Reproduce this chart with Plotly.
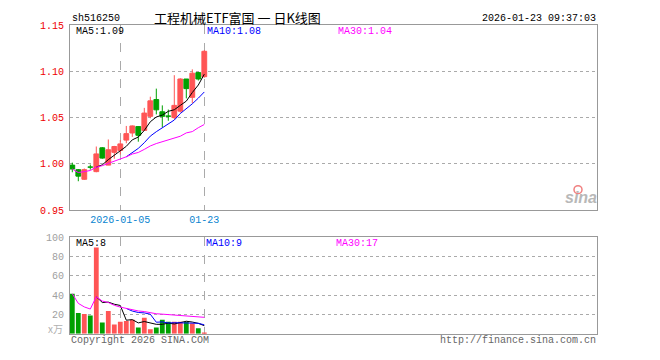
import plotly.graph_objects as go

# ---------------- data ----------------
dates = ["2025-12-22", "2025-12-23", "2025-12-24", "2025-12-25", "2025-12-26",
         "2025-12-29", "2025-12-30", "2025-12-31", "2026-01-05", "2026-01-06",
         "2026-01-07", "2026-01-08", "2026-01-09", "2026-01-12", "2026-01-13",
         "2026-01-14", "2026-01-15", "2026-01-16", "2026-01-19", "2026-01-20",
         "2026-01-21", "2026-01-22", "2026-01-23"]
opens = [0.9987, 0.9938, 0.9834, 0.9968, 0.9917, 1.0174, 0.9987, 1.0125, 1.0146, 1.0257,
         1.0334, 1.0403, 1.0362, 1.0514, 1.0695, 1.0563, 1.0518, 1.0500, 1.0570, 1.0917,
         1.0719, 1.0986, 1.0942]
highs = [1.0014, 0.9945, 0.9951, 0.9993, 1.0188, 1.0181, 1.0264, 1.0195, 1.0257, 1.0410,
         1.0415, 1.0403, 1.0605, 1.0726, 1.0813, 1.0632, 1.0587, 1.0958, 1.0925, 1.0917,
         1.1021, 1.0993, 1.1229]
lows = [0.9910, 0.9813, 0.9830, 0.9938, 0.9910, 1.0056, 0.9987, 1.0056, 1.0101, 1.0223,
        1.0292, 1.0240, 1.0362, 1.0493, 1.0535, 1.0396, 1.0466, 1.0483, 1.0555, 1.0708,
        1.0656, 1.0900, 1.0931]
closes = [0.9945, 0.9868, 0.9938, 0.9964, 1.0108, 1.0063, 1.0153, 1.0188, 1.0216, 1.0327,
          1.0410, 1.0309, 1.0549, 1.0681, 1.0584, 1.0514, 1.0514, 1.0632, 1.0917, 1.0813,
          1.0980, 1.0917, 1.1216]
ma5 = [None, None, None, None, 0.9966, 0.9990, 1.0046, 1.0096, 1.0146, 1.0190,
       1.0260, 1.0290, 1.0362, 1.0455, 1.0507, 1.0527, 1.0568, 1.0585, 1.0632, 1.0678,
       1.0771, 1.0852, 1.0969]
ma10 = [None, None, None, None, None, None, None, None, None, 1.0077,
        1.0124, 1.0168, 1.0229, 1.0300, 1.0348, 1.0393, 1.0429, 1.0474, 1.0544, 1.0592,
        1.0649, 1.0710, 1.0777]
ma30 = [0.9945, 0.9907, 0.9917, 0.9929, 0.9965, 0.9981, 1.0006, 1.0029, 1.0049, 1.0077,
        1.0107, 1.0124, 1.0157, 1.0194, 1.0220, 1.0239, 1.0255, 1.0276, 1.0299, 1.0335,
        1.0349, 1.0391, 1.0426]
volumes = [41.5, 21.5, 20.5, 18.8, 89.5, 11.5, 23.5, 9.5, 12.5, 13.2,
           14.5, 6.5, 16.5, 4.5, 6.5, 14.5, 12.5, 12.5, 12.5, 12.5,
           10.5, 5.5, 0.5]
vol_ma5 = [None, None, None, None, 38.4, 32.4, 32.8, 30.6, 29.3, 14.0,
           14.6, 11.2, 12.6, 11.0, 9.7, 9.7, 10.9, 10.1, 11.7, 12.9,
           12.1, 10.7, 8.3]
vol_ma10 = [None, None, None, None, None, None, None, None, None, 26.2,
            23.5, 22.0, 21.6, 20.2, 11.9, 12.2, 11.1, 11.4, 11.4, 11.3,
            10.9, 10.8, 9.2]
vol_ma30 = [41.5, 31.5, 27.8, 25.6, 38.4, 33.9, 32.4, 29.5, 27.6, 26.2,
            25.1, 23.6, 23.0, 21.7, 20.7, 20.3, 19.9, 19.4, 19.1, 18.75,
            18.4, 17.8, 17.0]

price_ticks = [0.95, 1.00, 1.05, 1.10, 1.15]
price_tick_text = ["0.95", "1.00", "1.05", "1.10", "1.15"]
vol_ticks = [20, 40, 60, 80, 100]
vol_tick_text = ["20", "40", "60", "80", "100"]
date_tick_labels = {"2026-01-05": "2026-01-05", "2026-01-23": "01-23"}

title_code = "sh516250"
title_name = "工程机械ETF富国 一 日K线图"
title_time = "2026-01-23 09:37:03"
ma_price_labels = ["MA5:1.09", "MA10:1.08", "MA30:1.04"]
ma_vol_labels = ["MA5:8", "MA10:9", "MA30:17"]

# ---------------- styles ----------------
RED = "#ff5555"
GREEN = "#00a000"
GRID = "#aaaaaa"
FRAME = "#999999"
MONO = "Liberation Mono, DejaVu Sans Mono, monospace"
W, H = 660, 360

idx = list(range(len(dates)))
up = [c >= o for o, c in zip(opens, closes)]
colors = [RED if u else GREEN for u in up]


def px(x):
    return x / W


def py(y):
    return 1 - y / H


fig = go.Figure()

# wicks
for flag, col in ((True, RED), (False, GREEN)):
    wx, wy = [], []
    for i in idx:
        if up[i] == flag:
            wx += [i, i, None]
            wy += [lows[i], highs[i], None]
    fig.add_trace(go.Scatter(x=wx, y=wy, mode="lines", line=dict(color=col, width=1),
                             hoverinfo="skip", showlegend=False, xaxis="x", yaxis="y"))

# bodies
fig.add_trace(go.Bar(x=idx, y=[abs(c - o) for o, c in zip(opens, closes)],
                     base=[min(o, c) for o, c in zip(opens, closes)],
                     width=0.8, marker=dict(color=colors, line=dict(color=colors, width=1)),
                     showlegend=False, xaxis="x", yaxis="y"))

# price MAs
for arr, col in ((ma5, "#000000"), (ma10, "#0000ff"), (ma30, "#ff00ff")):
    fig.add_trace(go.Scatter(x=idx, y=arr, mode="lines", line=dict(color=col, width=1),
                             showlegend=False, xaxis="x", yaxis="y", connectgaps=False))

# volume
fig.add_trace(go.Bar(x=idx, y=volumes, width=0.8,
                     marker=dict(color=colors, line=dict(width=0)),
                     showlegend=False, xaxis="x2", yaxis="y2"))
for arr, col in ((vol_ma5, "#000000"), (vol_ma10, "#0000ff"), (vol_ma30, "#ff00ff")):
    fig.add_trace(go.Scatter(x=idx, y=arr, mode="lines", line=dict(color=col, width=1),
                             showlegend=False, xaxis="x2", yaxis="y2"))

x_left, x_right = 70, 597
slot = 6.0
first_c = 72.3
xr = [(x_left - first_c) / slot, (x_right - first_c) / slot]
date_vals = [dates.index(d) for d in date_tick_labels]
date_text = list(date_tick_labels.values())

common_x = dict(range=xr, showline=True, mirror=True, linecolor=FRAME, linewidth=1,
                showgrid=True, gridcolor=GRID, griddash="dash", gridwidth=1,
                zeroline=False, ticks="", tickvals=date_vals, ticktext=date_text,
                domain=[px(x_left), px(x_right)])

fig.update_layout(
    width=W, height=H, margin=dict(l=0, r=0, t=0, b=0),
    paper_bgcolor="white", plot_bgcolor="white", showlegend=False,
    xaxis=dict(**common_x, anchor="y",
               tickfont=dict(family=MONO, size=10, color="#0a84d0")),
    yaxis=dict(domain=[py(212.3), py(20.7)], range=[0.95, 1.15],
               tickvals=price_ticks, ticktext=price_tick_text,
               tickfont=dict(family=MONO, size=10, color="#ee0000"),
               showline=True, mirror=True, linecolor=FRAME, linewidth=1,
               showgrid=True, gridcolor=GRID, griddash="dot", gridwidth=1,
               zeroline=False, ticks="", ticklabelstandoff=3),
    xaxis2=dict(**common_x, anchor="y2", showticklabels=False),
    yaxis2=dict(domain=[py(340), py(240.5)], range=[0, 100],
                tickvals=vol_ticks, ticktext=vol_tick_text,
                tickfont=dict(family=MONO, size=10, color="#a0a0a0"),
                showline=True, mirror=True, linecolor=FRAME, linewidth=1,
                showgrid=True, gridcolor=GRID, griddash="dot", gridwidth=1,
                zeroline=False, ticks="", ticklabelstandoff=3),
)

ann = []


def text(x, y, s, color="#000000", size=10, anchor="left", family=MONO, **kw):
    ann.append(dict(x=px(x), y=py(y), xref="paper", yref="paper", text=s,
                    showarrow=False, xanchor=anchor, yanchor="middle",
                    font=dict(family=family, size=size, color=color, **kw)))


text(70, 13.5, title_code)
text(237, 12.5, title_name, size=13, anchor="center", family="Noto Sans CJK SC")
text(598, 13.5, title_time, anchor="right")
for lbl, xx, col in zip(ma_price_labels, (74, 205, 336), ("#000000", "#0000ff", "#ff00ff")):
    text(xx, 27.5, lbl, col)
for lbl, xx, col in zip(ma_vol_labels, (74, 204, 334), ("#000000", "#0000ff", "#ff00ff")):
    text(xx, 246.5, lbl, col)
text(65, 335, "x万", "#b0b0b0", anchor="right", family="Noto Sans CJK SC", size=10)
text(69, 347, "Copyright 2026 SINA.COM", "#666666")
text(598, 347, "http://finance.sina.com.cn", "#666666", anchor="right")
text(581, 199, "sina", "#b8b8b8", size=16, anchor="center", family="Arial, Liberation Sans",
     style="italic", weight="bold")
fig.update_layout(annotations=ann)

fig.add_shape(type="circle", xref="paper", yref="paper",
              x0=px(574), x1=px(582), y0=py(195), y1=py(187),
              line=dict(color="#f08080", width=1.5))

fig.write_html("out.html")
